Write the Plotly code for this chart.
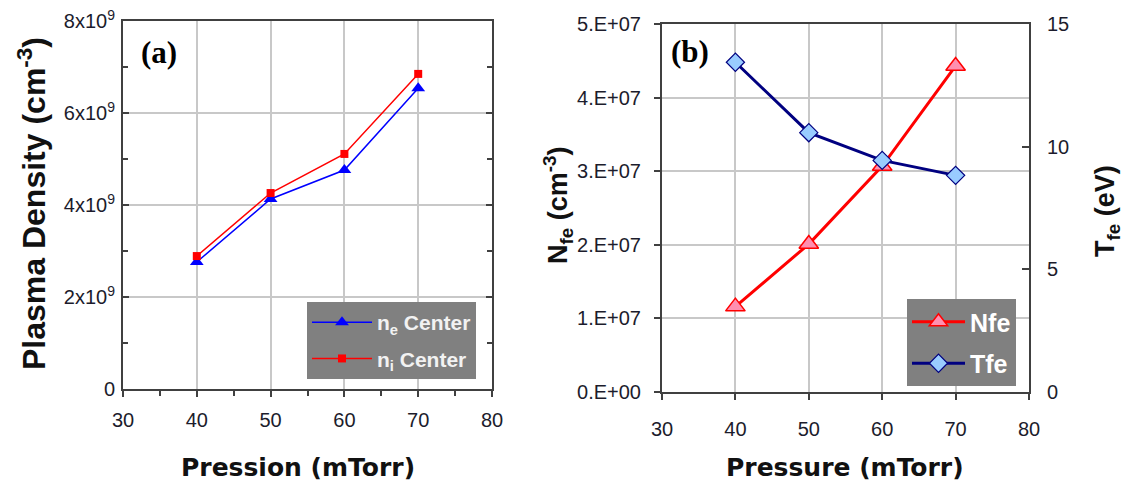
import plotly.graph_objects as go

# Panel (a): centre plasma density versus pressure
pressure = [40, 50, 60, 70]
ne_center = [2.76e9, 4.13e9, 4.76e9, 6.54e9]
ni_center = [2.89e9, 4.26e9, 5.11e9, 6.85e9]
density_ticks = [0, 2e9, 4e9, 6e9, 8e9]
density_minor = [1e9, 3e9, 5e9, 7e9]
density_labels = ["0", "2x10<sup>9</sup>", "4x10<sup>9</sup>", "6x10<sup>9</sup>", "8x10<sup>9</sup>"]

# Panel (b): fast-electron density and temperature versus pressure
nfe = [1.16e7, 2.01e7, 3.07e7, 4.43e7]
tfe = [13.44, 10.57, 9.44, 8.83]
nfe_ticks = [0, 1e7, 2e7, 3e7, 4e7, 5e7]
nfe_labels = ["0.E+00", "1.E+07", "2.E+07", "3.E+07", "4.E+07", "5.E+07"]
tfe_ticks = [0, 5, 10, 15]

W, H = 1128, 487
SANS = "Liberation Sans, Arial, sans-serif"
WIDE = "DejaVu Sans, Verdana, sans-serif"
SERIF = "Liberation Serif, Times New Roman, serif"
TICK_FONT = dict(family=SANS, size=20, color="#1c1c2c")
AXIS_LINE = "#404040"
GRID = "#c8c8c8"


def px_x(p):
    return p / W


def px_y(p):
    return 1 - p / H


xa = [px_x(123), px_x(492)]
ya = [px_y(389), px_y(21)]
xb = [px_x(662), px_x(1029)]
yb = [px_y(392), px_y(24)]

fig = go.Figure()

fig.add_trace(go.Scatter(
    x=pressure, y=ne_center, name="n<sub>e</sub> Center", mode="lines+markers",
    line=dict(color="#0000ff", width=1.5),
    marker=dict(symbol="triangle-up", size=12, color="#0000ff"),
    xaxis="x", yaxis="y", legend="legend", legendgroup="ne"))
fig.add_trace(go.Scatter(
    x=pressure, y=ni_center, name="n<sub>i</sub> Center", mode="lines+markers",
    line=dict(color="#ff0000", width=1.5),
    marker=dict(symbol="square", size=8, color="#ff0000"),
    xaxis="x", yaxis="y", legend="legend", legendgroup="ni"))

fig.add_trace(go.Scatter(
    x=pressure, y=nfe, name="Nfe", mode="lines+markers",
    line=dict(color="#ff0000", width=3),
    marker=dict(symbol="triangle-up", size=17, color="#ff8fb0",
                line=dict(color="#ff0000", width=1.5)),
    xaxis="x2", yaxis="y2", legend="legend2", legendgroup="nfe"))
fig.add_trace(go.Scatter(
    x=pressure, y=tfe, name="Tfe", mode="lines+markers",
    line=dict(color="#000080", width=3),
    marker=dict(symbol="diamond", size=14, color="#99ccff",
                line=dict(color="#000080", width=1.2)),
    xaxis="x2", yaxis="y4", legend="legend2", legendgroup="tfe"))

common_axis = dict(showline=True, linecolor=AXIS_LINE, linewidth=2,
                   tickfont=TICK_FONT, zeroline=False, automargin=False,
                   tickcolor=AXIS_LINE, tickwidth=2)

fig.update_layout(
    width=W, height=H,
    margin=dict(l=0, r=0, t=0, b=0),
    paper_bgcolor="white", plot_bgcolor="white",
    # panel (a)
    xaxis=dict(domain=xa, anchor="y", range=[30, 80], tick0=30, dtick=10,
               ticks="outside", ticklen=6, mirror=True, ticklabelstandoff=6,
               showgrid=True, gridcolor=GRID, gridwidth=1.5,
               minor=dict(ticks="outside", dtick=5, ticklen=5,
                          tickcolor=AXIS_LINE, tickwidth=2),
               **common_axis),
    yaxis=dict(domain=ya, anchor="x", range=[0, 8e9], tickmode="array",
               tickvals=density_ticks, ticktext=density_labels,
               ticks="inside", ticklen=6, mirror="ticks", ticklabelstandoff=2,
               showgrid=True, gridcolor=GRID, gridwidth=1.5,
               minor=dict(ticks="inside", tickvals=density_minor,
                          ticklen=5, tickcolor=AXIS_LINE, tickwidth=2),
               **common_axis),
    xaxis3=dict(overlaying="x", anchor="y", side="top", range=[30, 80],
                tick0=30, dtick=10, ticks="inside", ticklen=6,
                tickcolor=AXIS_LINE, tickwidth=2, showticklabels=False,
                showgrid=False, showline=False, zeroline=False,
                automargin=False,
                minor=dict(ticks="inside", dtick=5, ticklen=5,
                           tickcolor=AXIS_LINE, tickwidth=2)),
    # panel (b)
    xaxis2=dict(domain=xb, anchor="y2", range=[30, 80], tick0=30, dtick=10,
                ticks="outside", ticklen=6, mirror=True, ticklabelstandoff=12,
                showgrid=True, gridcolor=GRID, gridwidth=1.5,
                **common_axis),
    yaxis2=dict(domain=yb, anchor="x2", range=[0, 5e7], tickmode="array",
                tickvals=nfe_ticks, ticktext=nfe_labels,
                ticks="outside", ticklen=6, ticklabelstandoff=9,
                showgrid=True, gridcolor=GRID, gridwidth=1.5,
                **common_axis),
    yaxis4=dict(overlaying="y2", anchor="x2", side="right", range=[0, 15],
                tickmode="array", tickvals=tfe_ticks, ticks="inside",
                ticklen=7, ticklabelstandoff=12, showgrid=False, **common_axis),
    legend=dict(x=px_x(307), y=px_y(302), xanchor="left", yanchor="top",
                bgcolor="#808080", borderwidth=0,
                font=dict(family=SANS, size=21, color="#f2f2f2", weight="bold"),
                itemwidth=60, traceorder="grouped", tracegroupgap=6),
    legend2=dict(x=px_x(907), y=px_y(299), xanchor="left", yanchor="top",
                 bgcolor="#808080", borderwidth=0,
                 font=dict(family=SANS, size=25, color="#ffffff", weight="bold"),
                 itemwidth=53, traceorder="grouped", tracegroupgap=6),
    showlegend=True,
)

x_title_font = dict(family=WIDE, size=25, color="#111111", weight="bold")
y_title_font = dict(family=SANS, size=27, color="#111111", weight="bold")
annotations = [
    dict(text="Plasma Density (cm<sup>-3</sup>)", x=px_x(32), y=px_y(204),
         textangle=-90, font=dict(family=SANS, size=32, color="#111111", weight="bold")),
    dict(text="Pression (mTorr)", x=px_x(298), y=px_y(467), font=x_title_font),
    dict(text="N<sub>fe</sub> (cm<sup>-3</sup>)", x=px_x(558), y=px_y(205),
         textangle=-90, font=y_title_font),
    dict(text="T<sub>fe</sub> (eV)", x=px_x(1107), y=px_y(211),
         textangle=-90, font=y_title_font),
    dict(text="Pressure (mTorr)", x=px_x(845), y=px_y(467), font=x_title_font),
    dict(text="<b>(a)</b>", x=px_x(159), y=px_y(52),
         font=dict(family=SERIF, size=31, color="#000000")),
    dict(text="<b>(b)</b>", x=px_x(690), y=px_y(51),
         font=dict(family=SERIF, size=31, color="#000000")),
]
for a in annotations:
    a.update(xref="paper", yref="paper", showarrow=False,
             xanchor="center", yanchor="middle")
fig.update_layout(annotations=annotations)

# The figure is laid out in page pixels, so the page body gets no margin.
fig.write_html("out.html",
               post_script="document.body.style.margin='0';"
                           "document.body.style.overflow='hidden';")
